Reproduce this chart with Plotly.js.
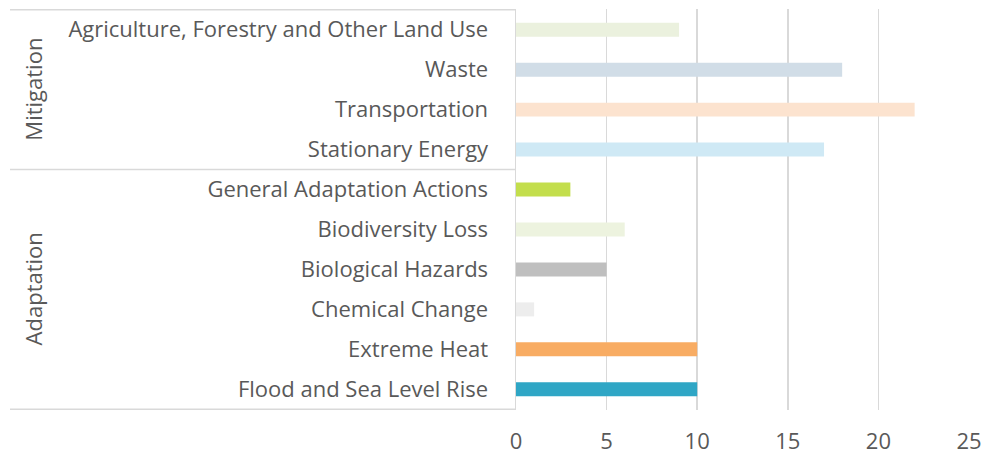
<!DOCTYPE html>
<html>
<head>
<meta charset="utf-8">
<script src="https://cdn.plot.ly/plotly-3.0.1.min.js"></script>
<style>html,body{margin:0;padding:0;background:#fff;}#chart{width:985px;height:456px;}</style>
</head>
<body>
<div id="chart"></div>
<script>
const categories = ["Agriculture, Forestry and Other Land Use","Waste","Transportation","Stationary Energy","General Adaptation Actions","Biodiversity Loss","Biological Hazards","Chemical Change","Extreme Heat","Flood and Sea Level Rise"];
const values = [9, 18, 22, 17, 3, 6, 5, 1, 10, 10];
const barColors = ["#EBF1DE","#D1DDE7","#FCE3CF","#CFE9F5","#C3DE4C","#EDF3DF","#BFBFBF","#EDEDED","#F8AC63","#2FA6C5"];
const groups = ["Mitigation","Adaptation"];
const groupRanges = [[0,3],[4,9]];
const xTicks = [0, 5, 10, 15, 20, 25];

const L = 516, R = 16, T = 9, B = 46, W = 985, H = 456;
const pw = W - L - R;
const px = p => (p - L) / pw;
const FONT = "Open Sans, sans-serif";
const FS = 22;

const shapes = [];
const lineStyle = {color:"#D9D9D9", width:1.5};
shapes.push({type:"line", xref:"paper", yref:"y", x0:px(10), x1:0, y0:-0.5, y1:-0.5, line:lineStyle});
groupRanges.forEach(r => {
  shapes.push({type:"line", xref:"paper", yref:"y", x0:px(10), x1:0, y0:r[1]+0.5, y1:r[1]+0.5, line:lineStyle});
});

const annotations = groups.map((g, i) => ({
  text: g, xref:"paper", yref:"y", x: px(33), y: (groupRanges[i][0] + groupRanges[i][1]) / 2,
  textangle: -90, showarrow:false, xanchor:"center", yanchor:"middle",
  font:{family:FONT, size:FS, color:"#595959"}
}));

const trace = {
  type:"bar", orientation:"h", x: values, y: categories,
  marker:{color: barColors}, hoverinfo:"none"
};

const layout = {
  width:W, height:H,
  margin:{l:L, r:R, t:T, b:B},
  paper_bgcolor:"#fff", plot_bgcolor:"#fff",
  bargap:0.65,
  showlegend:false,
  font:{family:FONT, size:FS, color:"#595959"},
  xaxis:{range:[0,25], tickvals:xTicks, showgrid:true, gridcolor:"#D9D9D9", gridwidth:1.5,
         zeroline:false, showline:false, ticks:"", ticklabelstandoff:16,
         tickfont:{family:FONT, size:FS, color:"#595959"}},
  yaxis:{type:"category", autorange:"reversed", showgrid:false, zeroline:false,
         showline:true, linecolor:"#D9D9D9", linewidth:1.5, ticks:"", ticklabelstandoff:22,
         tickfont:{family:FONT, size:FS, color:"#595959"}},
  shapes: shapes,
  annotations: annotations
};

Plotly.newPlot("chart", [trace], layout, {staticPlot:true, displayModeBar:false});
</script>
</body>
</html>
